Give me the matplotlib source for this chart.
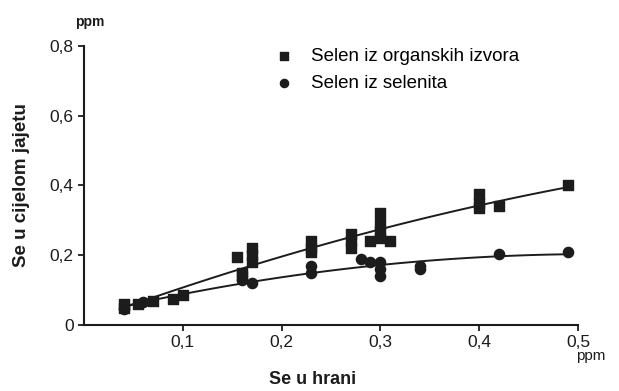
import numpy as np
import matplotlib
matplotlib.use("Agg")
import matplotlib.pyplot as plt
from matplotlib.ticker import FuncFormatter

plt.rcParams['font.family'] = ['Liberation Sans', 'DejaVu Sans']

# Selen iz organskih izvora (kvadrati)
org_x = [0.04, 0.04, 0.055, 0.07, 0.09, 0.10,
         0.155, 0.16, 0.16, 0.17, 0.17, 0.17,
         0.23, 0.23, 0.23, 0.27, 0.27, 0.27,
         0.29, 0.30, 0.30, 0.30, 0.30, 0.31,
         0.40, 0.40, 0.40, 0.42, 0.49]
org_y = [0.05, 0.06, 0.06, 0.07, 0.075, 0.085,
         0.195, 0.15, 0.14, 0.22, 0.20, 0.18,
         0.24, 0.22, 0.21, 0.26, 0.24, 0.22,
         0.24, 0.32, 0.29, 0.27, 0.25, 0.24,
         0.375, 0.35, 0.335, 0.34, 0.40]

# Selen iz selenita (krugovi)
sel_x = [0.04, 0.06, 0.16, 0.17, 0.23, 0.23, 0.28,
         0.29, 0.30, 0.30, 0.30, 0.34, 0.34, 0.42, 0.49]
sel_y = [0.045, 0.065, 0.13, 0.12, 0.17, 0.15, 0.19,
         0.18, 0.18, 0.16, 0.14, 0.17, 0.16, 0.205, 0.21]

x_ticks = [0.1, 0.2, 0.3, 0.4, 0.5]
y_ticks = [0, 0.2, 0.4, 0.6, 0.8]

fig = plt.figure(figsize=(6.19, 3.91), dpi=100)
ax = fig.add_axes([0.1357, 0.1688, 0.798, 0.7136])

boja = '#1c1c1c'
ax.scatter(org_x, org_y, marker='s', s=58, color=boja, zorder=3,
           label='Selen iz organskih izvora')
ax.scatter(sel_x, sel_y, marker='o', s=54, color=boja, zorder=3,
           label='Selen iz selenita')

# krivulje prilagodbe (polinom 2. reda)
xs = np.linspace(min(org_x), max(org_x), 100)
p_org = np.polyfit(org_x, org_y, 2)
p_sel = np.polyfit(sel_x, sel_y, 2)
ax.plot(xs, np.polyval(p_org, xs), color=boja, lw=1.4, zorder=2)
ax.plot(xs, np.polyval(p_sel, xs), color=boja, lw=1.4, zorder=2)

ax.set_xlim(0, 0.5)
ax.set_ylim(0, 0.8)
ax.set_xticks(x_ticks)
ax.set_yticks(y_ticks)
zarez = FuncFormatter(lambda v, pos: ('%g' % v).replace('.', ','))
ax.xaxis.set_major_formatter(zarez)
ax.yaxis.set_major_formatter(zarez)
ax.tick_params(labelsize=12.5, length=4, width=1.3, color=boja, labelcolor=boja)

for s in ['top', 'right']:
    ax.spines[s].set_visible(False)
for s in ['left', 'bottom']:
    ax.spines[s].set_linewidth(1.5)
    ax.spines[s].set_color(boja)

fig.text(22 / 619, 1 - 185 / 391, 'Se u cijelom jajetu', fontsize=13.5,
         fontweight='bold', color=boja, rotation=90, ha='center', va='center')
fig.text(313 / 619, 1 - 379 / 391, 'Se u hrani', fontsize=13,
         fontweight='bold', color=boja, ha='center', va='center')

fig.text(90 / 619, 1 - 22 / 391, 'ppm', fontsize=10, fontweight='bold',
         color=boja, ha='center', va='center')
fig.text(591 / 619, 1 - 356 / 391, 'ppm', fontsize=11, color=boja,
         ha='center', va='center')

ax.legend(frameon=False, loc='upper left', bbox_to_anchor=(0.352, 1.02),
          fontsize=13.5, handletextpad=0.45, labelspacing=0.5, borderaxespad=0,
          markerscale=0.8)

fig.savefig('out.png', dpi=100)
